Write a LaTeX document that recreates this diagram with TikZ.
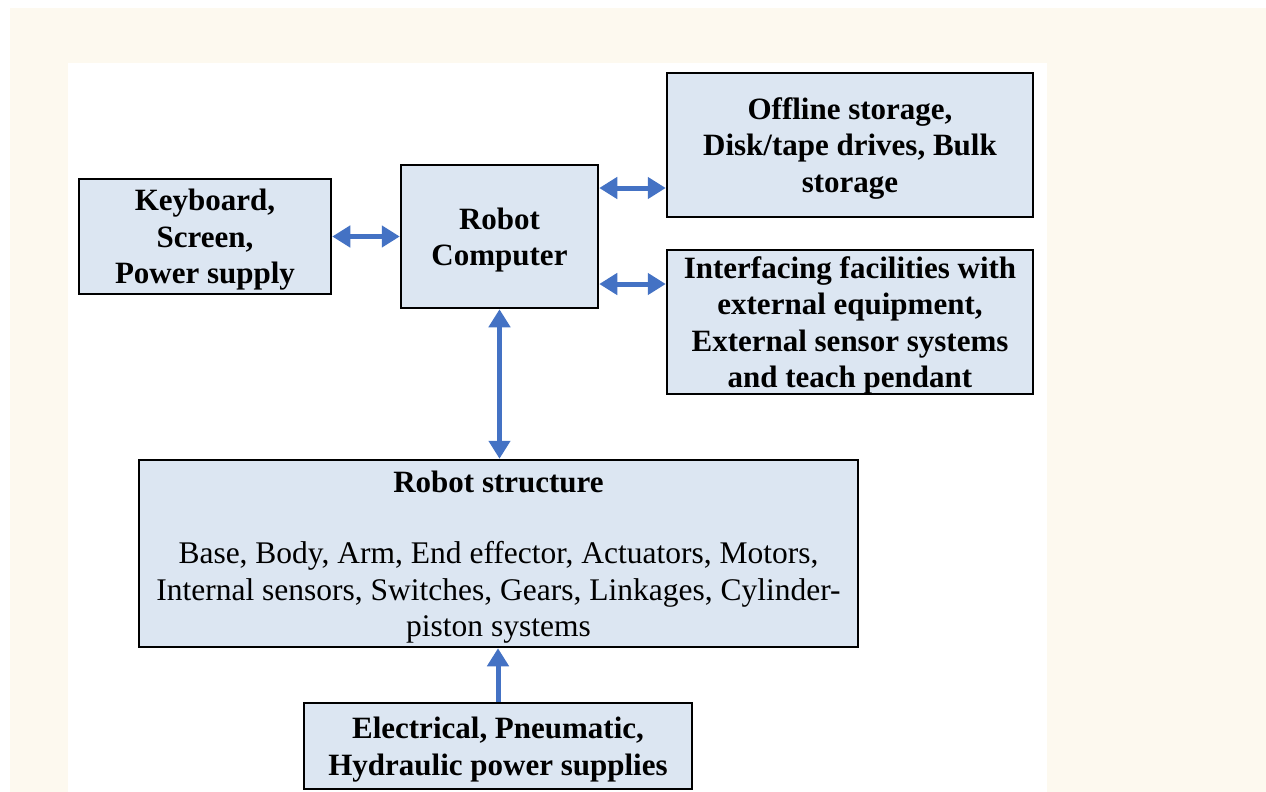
\documentclass[tikz,border=0pt]{standalone}
\usepackage{fontspec}
\setmainfont{Liberation Serif}
\usetikzlibrary{arrows.meta}
\definecolor{pagecream}{RGB}{253,249,239}
\definecolor{boxblue}{RGB}{220,230,242}
\definecolor{arrowblue}{RGB}{68,114,196}
\newcommand{\bodytext}{\fontsize{31.5}{36}\selectfont\mdseries}
\begin{document}
\begin{tikzpicture}[x=1pt, y=-1pt,
    blk/.style={draw=black, line width=2.5pt, fill=boxblue, align=center, inner sep=0pt,
        text depth=0pt, font=\fontsize{31}{36.5}\selectfont\bfseries},
    link/.style={draw=arrowblue, line width=5pt,
        {Triangle[length=18pt,width=21pt]}-{Triangle[length=18pt,width=21pt]}},
    feed/.style={draw=arrowblue, line width=5pt, -{Triangle[length=18pt,width=21pt]}}]
    \useasboundingbox (0,0) rectangle (1266,792);
    \fill[white] (0,0) rectangle (1266,792);
    \fill[pagecream] (10,8) rectangle (1266,792);
    \fill[white] (68,63) rectangle (1047,792);

    \node[blk, minimum width=252pt, minimum height=115pt] (kbd) at (205,236.5)
        {Keyboard,\\Screen,\\Power supply};
    \node[blk, minimum width=197pt, minimum height=143pt] (comp) at (499.5,236.5)
        {Robot\\Computer};
    \node[blk, minimum width=366pt, minimum height=144pt] (offline) at (850,145)
        {Offline storage,\\Disk/tape drives, Bulk\\storage};
    \node[blk, minimum width=366pt, minimum height=144pt] (iface) at (850,322)
        {Interfacing facilities with\\external equipment,\\External sensor systems\\and teach pendant};
    \node[blk, minimum width=719pt, minimum height=187pt] (struct) at (498.5,553.5)
        {Robot structure\\[35pt]\bodytext Base, Body, Arm, End effector, Actuators, Motors,\\
        \bodytext Internal sensors, Switches, Gears, Linkages, Cylinder-\\
        \bodytext piston systems};
    \node[blk, minimum width=388pt, minimum height=86pt] (power) at (498,746)
        {Electrical, Pneumatic,\\Hydraulic power supplies};

    \draw[link] (kbd.east) -- (comp.west);
    \draw[link] ([yshift=48.5pt]comp.east) -- ([yshift=48.5pt]comp.east -| offline.west);
    \draw[link] ([yshift=-47.5pt]comp.east) -- ([yshift=-47.5pt]comp.east -| iface.west);
    \draw[link] (comp.south) -- (comp.south |- struct.north);
    \draw[feed] (power.north) -- (power.north |- struct.south);
\end{tikzpicture}
\end{document}
